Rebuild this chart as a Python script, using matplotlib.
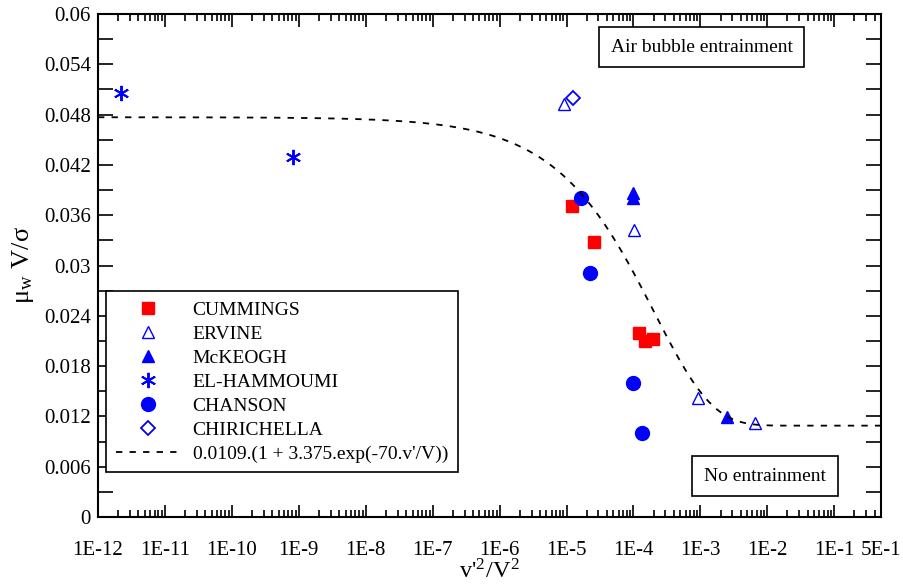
import numpy as np
import matplotlib
matplotlib.use("Agg")
import matplotlib.pyplot as plt
from matplotlib.ticker import FixedLocator, LogLocator, NullFormatter

plt.rcParams['font.family'] = ['Liberation Serif', 'DejaVu Serif']
plt.rcParams['mathtext.fontset'] = 'stix'

# data (x = v'^2/V^2, y = mu_w V / sigma)
cummings_x = [1.22e-5, 2.6e-5, 1.22e-4, 1.5e-4, 1.94e-4]
cummings_y = [0.0371, 0.0328, 0.0219, 0.0210, 0.0212]
ervine_x = [9.2e-6, 1.03e-4, 9.3e-4, 6.6e-3]
ervine_y = [0.0493, 0.0342, 0.0142, 0.0112]
mckeogh_x = [1.0e-4, 1.0e-4, 2.52e-3]
mckeogh_y = [0.0387, 0.0381, 0.0119]
hammoumi_x = [2.2e-12, 8.2e-10]
hammoumi_y = [0.0506, 0.0429]
chanson_x = [1.66e-5, 2.26e-5, 9.9e-5, 1.35e-4]
chanson_y = [0.0381, 0.0291, 0.0160, 0.0100]
chirichella_x = [1.26e-5]
chirichella_y = [0.0500]

xtick_vals = [1e-12, 1e-11, 1e-10, 1e-9, 1e-8, 1e-7, 1e-6, 1e-5, 1e-4, 1e-3, 1e-2, 1e-1, 5e-1]
xtick_labels = ['1E-12', '1E-11', '1E-10', '1E-9', '1E-8', '1E-7', '1E-6', '1E-5',
                '1E-4', '1E-3', '1E-2', '1E-1', '5E-1']
ytick_vals = [0, 0.006, 0.012, 0.018, 0.024, 0.03, 0.036, 0.042, 0.048, 0.054, 0.06]
ytick_labels = ['0', '0.006', '0.012', '0.018', '0.024', '0.03', '0.036', '0.042',
                '0.048', '0.054', '0.06']

# fitted curve given in the legend
xc = np.logspace(-12, np.log10(0.5), 400)
yc = 0.0109 * (1 + 3.375 * np.exp(-70 * np.sqrt(xc)))

fig = plt.figure(figsize=(9.04, 5.86), dpi=100)
ax = fig.add_axes([0.1084, 0.1177, 0.8662, 0.8584])

red = '#ff0000'
blue = '#0000ff'
ax.plot(cummings_x, cummings_y, 's', color=red, ms=9, ls='none', label='CUMMINGS')
ax.plot(ervine_x, ervine_y, '^', mfc='white', mec=blue, mew=1.0, ms=9, ls='none', label='ERVINE')
ax.plot(mckeogh_x, mckeogh_y, '^', color=blue, ms=9, ls='none', label='McKEOGH')
ax.plot(hammoumi_x, hammoumi_y, marker=(6, 2, 0), color=blue, mew=1.4, ms=11, ls='none', label='EL-HAMMOUMI')
ax.plot(chanson_x, chanson_y, 'o', color=blue, ms=10, ls='none', label='CHANSON')
ax.plot(chirichella_x, chirichella_y, 'D', mfc='white', mec=blue, mew=1.3, ms=7, ls='none', label='CHIRICHELLA')
ax.plot(xc, yc, color='black', ls=(0, (3.5, 4)), lw=1.3, label="0.0109.(1 + 3.375.exp(-70.v'/V))")

ax.set_xscale('log')
ax.set_xlim(1e-12, 0.5)
ax.set_ylim(0, 0.06)

ax.xaxis.set_major_locator(FixedLocator(xtick_vals))
ax.set_xticklabels(xtick_labels)
ax.xaxis.set_minor_locator(LogLocator(base=10, subs=np.arange(2, 10), numticks=100))
ax.xaxis.set_minor_formatter(NullFormatter())
ax.yaxis.set_major_locator(FixedLocator(ytick_vals))
ax.set_yticklabels(ytick_labels)
ax.yaxis.set_minor_locator(FixedLocator(np.arange(0.003, 0.06, 0.006)))

ax.tick_params(which='both', direction='in', top=True, right=True, labelsize=15, width=1.2)
ax.tick_params(axis='x', which='major', length=9, pad=17)
ax.tick_params(axis='x', which='minor', length=5)
ax.tick_params(axis='y', which='both', length=11, pad=5)
for s in ax.spines.values():
    s.set_linewidth(1.5)

ax.set_xlabel("v'$^\\mathregular{2}$/V$^\\mathregular{2}$", fontsize=17.5, labelpad=0)
ax.set_ylabel('μ$_\\mathregular{w}$ V/σ', fontsize=19, labelpad=6)

leg = ax.legend(loc='upper left', bbox_to_anchor=(0.0102, 0.449), fontsize=14,
                frameon=True, fancybox=False, edgecolor='black', framealpha=1,
                handlelength=3.3, handletextpad=0.65, labelspacing=0.33,
                borderpad=0.5, borderaxespad=0)
leg.get_frame().set_linewidth(1.2)

box = dict(boxstyle='square,pad=0.6', fc='white', ec='black', lw=1.2)
ax.text(0.771, 0.934, 'Air bubble entrainment', transform=ax.transAxes,
        ha='center', va='center', fontsize=14, bbox=box)
ax.text(0.852, 0.0815, 'No entrainment', transform=ax.transAxes,
        ha='center', va='center', fontsize=14, bbox=box)

fig.savefig('out.png', dpi=100)
